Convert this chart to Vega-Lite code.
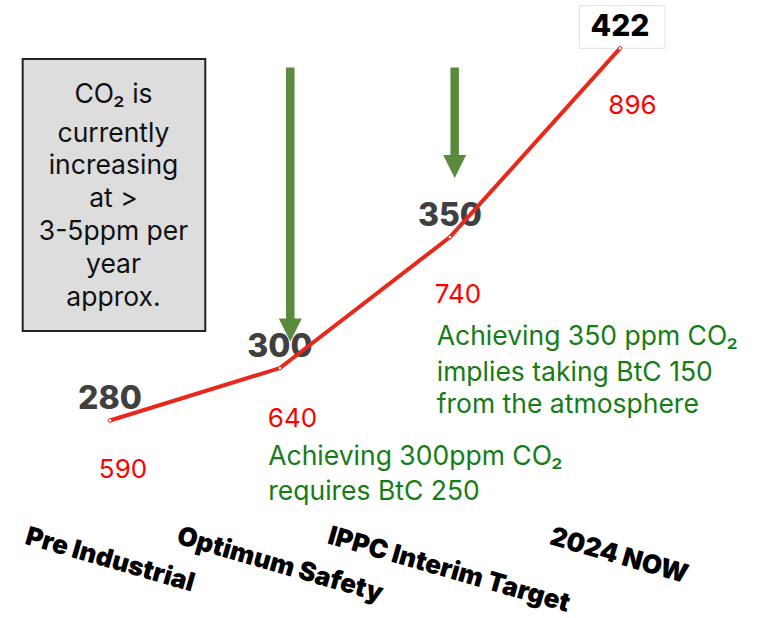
{
  "$schema": "https://vega.github.io/schema/vega-lite/v6.json",
  "width": 757,
  "height": 618,
  "autosize": {"type": "fit", "contains": "padding"},
  "padding": 0,
  "background": "white",
  "config": {"view": {"stroke": null}},
  "datasets": {
    "series": [
      {"stage": "Pre Industrial", "x": 0, "y": 280},
      {"stage": "Optimum Safety", "x": 1, "y": 300},
      {"stage": "IPPC Interim Target", "x": 2, "y": 350},
      {"stage": "2024 NOW", "x": 3, "y": 422}
    ],
    "box": [{"x": -0.5135, "x2": 0.5606, "y": 417.95, "y2": 314.15}],
    "nowbox": [{"x": 2.761, "x2": 3.265, "y": 438.29, "y2": 422.03}],
    "arrows": [
      {"x": 1.0606, "y": 414.7, "y2": 314.5},
      {"x": 2.0276, "y": 414.7, "y2": 376.93}
    ],
    "btc": [
      {"label": "590", "x": 0.0765, "y": 261.29},
      {"label": "640", "x": 1.0735, "y": 280.38},
      {"label": "740", "x": 2.047, "y": 327.89},
      {"label": "896", "x": 3.0735, "y": 400.01}
    ],
    "boxtext": [
      {"label": "CO₂ is", "x": 0.0206, "y": 401.04},
      {"label": "currently", "x": 0.0206, "y": 386.39},
      {"label": "increasing", "x": 0.0206, "y": 373.95},
      {"label": "at >", "x": 0.0206, "y": 361.58},
      {"label": "3-5ppm per", "x": 0.0206, "y": 348.88},
      {"label": "year", "x": 0.0206, "y": 336.17},
      {"label": "approx.", "x": 0.0206, "y": 323.69}
    ],
    "notes": [
      {"label": "Achieving 350 ppm CO₂", "x": 1.922, "y": 308.75},
      {"label": "implies taking BtC 150", "x": 1.922, "y": 295.0},
      {"label": "from the atmosphere", "x": 1.922, "y": 282.7},
      {"label": "Achieving 300ppm CO₂", "x": 0.931, "y": 263.0},
      {"label": "requires BtC 250", "x": 0.931, "y": 249.5}
    ],
    "stages": [
      {"label": "Pre Industrial", "x": 0, "y": 226.76},
      {"label": "Optimum Safety", "x": 1, "y": 224.85},
      {"label": "IPPC Interim Target", "x": 1.994, "y": 222.94},
      {"label": "2024 NOW", "x": 2.994, "y": 228.28}
    ]
  },
  "encoding": {
    "x": {"field": "x", "type": "quantitative", "scale": {"domain": [-0.647, 3.806], "nice": false, "zero": false}, "axis": null},
    "y": {"field": "y", "type": "quantitative", "scale": {"domain": [204.62, 440.46], "nice": false, "zero": false}, "axis": null}
  },
  "layer": [
    {
      "data": {"name": "box"},
      "mark": {"type": "rect", "fill": "#dddddd", "stroke": "#222222", "strokeWidth": 2},
      "encoding": {"x2": {"field": "x2"}, "y2": {"field": "y2"}}
    },
    {
      "data": {"name": "nowbox"},
      "mark": {"type": "rect", "fill": "#ffffff", "stroke": "#e2e2e2", "strokeWidth": 1},
      "encoding": {"x2": {"field": "x2"}, "y2": {"field": "y2"}}
    },
    {
      "data": {"name": "series"},
      "mark": {"type": "text", "font": "Inter", "fontWeight": 800, "align": "center", "baseline": "middle", "dy": -21},
      "encoding": {
        "text": {"field": "y", "type": "quantitative"},
        "color": {"condition": {"test": "datum.y === 422", "value": "#000000"}, "value": "#404040"},
        "size": {"condition": {"test": "datum.y === 422", "value": 30}, "value": 32}
      }
    },
    {
      "data": {"name": "arrows"},
      "mark": {"type": "rule", "color": "#5a8a3c", "strokeWidth": 8.5, "strokeCap": "butt"},
      "encoding": {"y2": {"field": "y2"}}
    },
    {
      "data": {"name": "arrows"},
      "mark": {"type": "point", "shape": "M-1,-1L1,-1L0,1Z", "size": 529, "filled": true, "color": "#5a8a3c", "opacity": 1},
      "encoding": {
        "y": {"field": "y2", "type": "quantitative", "scale": {"domain": [204.62, 440.46], "nice": false, "zero": false}, "axis": null}
      }
    },
    {
      "data": {"name": "series"},
      "mark": {"type": "line", "color": "#e8281a", "strokeWidth": 4}
    },
    {
      "data": {"name": "series"},
      "mark": {"type": "point", "shape": "circle", "size": 14, "filled": true, "fill": "#ffffff", "stroke": "#e8281a", "strokeWidth": 1, "opacity": 1}
    },
    {
      "data": {"name": "btc"},
      "mark": {"type": "text", "font": "Inter", "fontSize": 26, "color": "#ff0000", "align": "center", "baseline": "middle"},
      "encoding": {"text": {"field": "label"}}
    },
    {
      "data": {"name": "boxtext"},
      "mark": {"type": "text", "font": "Inter", "fontSize": 26.5, "color": "#111111", "align": "center", "baseline": "alphabetic"},
      "encoding": {"text": {"field": "label"}}
    },
    {
      "data": {"name": "notes"},
      "mark": {"type": "text", "font": "Inter", "fontSize": 26.5, "color": "#167c16", "align": "left", "baseline": "alphabetic"},
      "encoding": {"text": {"field": "label"}}
    },
    {
      "data": {"name": "stages"},
      "mark": {"type": "text", "font": "Inter", "fontWeight": 900, "fontSize": 26, "color": "#000000", "align": "center", "baseline": "middle", "angle": 16},
      "encoding": {"text": {"field": "label"}}
    }
  ]
}
